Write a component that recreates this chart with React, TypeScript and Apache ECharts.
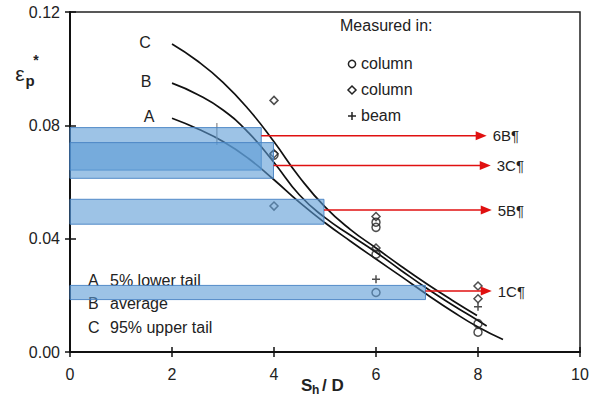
import React, { useEffect, useRef } from "react";
import * as echarts from "echarts";

// ---- data ----
const curveA = [
  [2, 0.0825], [2.5, 0.0788], [3, 0.0743], [3.5, 0.0683], [4, 0.0608],
  [4.5, 0.0528], [5, 0.0456], [5.5, 0.0391], [6, 0.0328], [6.5, 0.0266],
  [7, 0.0203], [7.5, 0.0143], [8, 0.0088], [8.49, 0.0044],
];
const curveB = [
  [2, 0.0949], [2.5, 0.0909], [3, 0.0854], [3.5, 0.0774], [4, 0.0669],
  [4.5, 0.0554], [5, 0.0474], [5.5, 0.0412], [6, 0.0352], [6.5, 0.0287],
  [7, 0.0224], [7.5, 0.0166], [8, 0.0111], [8.17, 0.0092],
];
const curveC = [
  [2, 0.1087], [2.5, 0.1027], [3, 0.0952], [3.5, 0.0857], [4, 0.0742],
  [4.5, 0.0617], [5, 0.0512], [5.5, 0.0432], [6, 0.0367], [6.5, 0.0302],
  [7, 0.0240], [7.5, 0.0182], [7.98, 0.0129],
];
const circlePts = [
  [4, 0.0695], [6, 0.0458], [6, 0.0440], [6, 0.0345], [6, 0.0210], [8, 0.0100], [8, 0.0070],
];
const diamondPts = [
  [4, 0.0888], [4, 0.0700], [4, 0.0515], [6, 0.0478], [6, 0.0367], [8, 0.0233], [8, 0.0188],
];
const plusPts = [
  [6, 0.0257], [8, 0.0160],
];
// [xStart, xEnd, yLow, yHigh]
const bands = [
  [0, 3.75, 0.0642, 0.0792],
  [0, 3.99, 0.0613, 0.0739],
  [0, 4.98, 0.0451, 0.0539],
  [0, 6.97, 0.0185, 0.0235],
];
// [y, xStart, xEnd]
const arrows = [
  [0.0763, 3.75, 8.17],
  [0.0658, 3.99, 8.25],
  [0.0501, 4.98, 8.27],
  [0.0215, 6.97, 8.27],
];
const arrowLabels = ["6B¶", "3C¶", "5B¶", "1C¶"];
const errorMark = [[2.88, 0.0731], [2.88, 0.0808]];
const curveLetters = ["C", "B", "A"];
const tailLetters = ["A", "B", "C"];
const tailLabels = ["5% lower tail", "average", "95% upper tail"];
const legendTitle = "Measured in:";
const legendLabels = ["column", "column", "beam"];
const xTickMin = 0, xTickMax = 10, xTickStep = 2;
const yTickMin = 0, yTickMax = 0.12, yTickStep = 0.04;

const FONT = "'Liberation Sans', Arial, sans-serif";
const PLUS = "path://M0,5L10,5M5,0L5,10";

export default function App() {
  const ref = useRef<HTMLDivElement>(null);
  useEffect(() => {
    document.body.style.margin = "0";
    const chart = echarts.init(ref.current!, null, { renderer: "svg" });
    const lineSeries = (data: number[][]) => ({
      type: "line",
      data,
      smooth: true,
      showSymbol: false,
      symbol: "none",
      lineStyle: { color: "#111", width: 1.7 },
      z: 2,
      silent: true,
    });
    const markerStyle = { color: "rgba(0,0,0,0)", borderColor: "#222", borderWidth: 1.5 };
    const option: any = {
      animation: false,
      backgroundColor: "#fff",
      grid: {
        left: 70, right: 13, top: 12, bottom: 44,
        show: true, borderColor: "#222", borderWidth: 1.5,
      },
      xAxis: [
        {
          type: "value", min: xTickMin, max: xTickMax, interval: xTickStep, position: "bottom",
          axisLine: { lineStyle: { color: "#111", width: 2 } },
          axisTick: { show: true, inside: false, length: 5, lineStyle: { color: "#111", width: 1.5 } },
          axisLabel: { margin: 14, fontSize: 16, color: "#222", fontFamily: FONT },
          splitLine: { show: false },
        },
        {
          type: "value", min: xTickMin, max: xTickMax, interval: xTickStep, position: "bottom",
          axisLine: { show: false },
          axisTick: { show: true, inside: true, length: 5, lineStyle: { color: "#111", width: 1.5 } },
          axisLabel: { show: false },
          splitLine: { show: false },
        },
      ],
      yAxis: [
        {
          type: "value", min: yTickMin, max: yTickMax, interval: yTickStep, position: "left",
          axisLine: { show: true, lineStyle: { color: "#111", width: 2 } },
          axisTick: { show: true, inside: false, length: 5, lineStyle: { color: "#111", width: 1.5 } },
          axisLabel: { margin: 10, fontSize: 16, color: "#222", fontFamily: FONT, formatter: (v: number) => v.toFixed(2) },
          splitLine: { show: false },
        },
        {
          type: "value", min: yTickMin, max: yTickMax, interval: yTickStep, position: "left",
          axisLine: { show: false },
          axisTick: { show: true, inside: true, length: 6, lineStyle: { color: "#111", width: 1.5 } },
          axisLabel: { show: false },
          splitLine: { show: false },
        },
      ],
      series: [
        lineSeries(curveA),
        lineSeries(curveB),
        lineSeries(curveC),
        {
          type: "line", data: errorMark, showSymbol: false, symbol: "none",
          lineStyle: { color: "#888", width: 1.2 }, z: 2, silent: true,
        },
        { type: "scatter", data: circlePts, symbol: "circle", symbolSize: 8, itemStyle: markerStyle, z: 3 },
        { type: "scatter", data: diamondPts, symbol: "diamond", symbolSize: 8, itemStyle: markerStyle, z: 3 },
        { type: "scatter", data: plusPts, symbol: PLUS, symbolSize: 8, itemStyle: markerStyle, z: 3 },
        {
          type: "custom",
          data: bands,
          encode: { x: [0, 1], y: [2, 3] },
          z: 4,
          renderItem: (params: any, api: any) => {
            const p0 = api.coord([api.value(0), api.value(3)]);
            const p1 = api.coord([api.value(1), api.value(2)]);
            return {
              type: "rect",
              shape: { x: p0[0], y: p0[1], width: p1[0] - p0[0], height: p1[1] - p0[1] },
              style: { fill: "rgba(91,155,213,0.6)", stroke: "rgba(70,130,195,0.9)", lineWidth: 1 },
            };
          },
        },
        {
          type: "custom",
          data: arrows,
          encode: { x: [1, 2], y: [0] },
          z: 5,
          renderItem: (params: any, api: any) => {
            const y = api.value(0);
            const p0 = api.coord([api.value(1), y]);
            const p1 = api.coord([api.value(2), y]);
            return {
              type: "group",
              children: [
                {
                  type: "line",
                  shape: { x1: p0[0], y1: p0[1], x2: p1[0] - 9, y2: p1[1] },
                  style: { stroke: "#e01010", lineWidth: 1.5 },
                },
                {
                  type: "polygon",
                  shape: { points: [[p1[0] - 11, p1[1] - 4.5], [p1[0], p1[1]], [p1[0] - 11, p1[1] + 4.5]] },
                  style: { fill: "#e01010" },
                },
                {
                  type: "text",
                  x: p1[0] + 6,
                  y: p1[1],
                  style: {
                    text: arrowLabels[params.dataIndex], fontSize: 15, fill: "#222",
                    fontFamily: FONT, align: "left", verticalAlign: "middle",
                  },
                },
              ],
            };
          },
        },
      ],
      graphic: [
        // curve letters
        ...curveLetters.map((t, i) => ({
          type: "text", x: [145, 146, 149][i], y: [42, 81, 116][i],
          style: { text: t, fontSize: 16, fill: "#222", fontFamily: FONT, align: "center", verticalAlign: "middle" },
        })),
        // tail legend
        ...tailLetters.map((t, i) => ({
          type: "text", x: 88, y: 280 + i * 23.5, z: 0,
          style: { text: t, fontSize: 16, fill: "#222", fontFamily: FONT, align: "left", verticalAlign: "middle" },
        })),
        ...tailLabels.map((t, i) => ({
          type: "text", x: 110, y: 280 + i * 23.5, z: 0,
          style: { text: t, fontSize: 16, fill: "#222", fontFamily: FONT, align: "left", verticalAlign: "middle" },
        })),
        // measured-in legend
        {
          type: "text", x: 340, y: 25,
          style: { text: legendTitle, fontSize: 16, fill: "#222", fontFamily: FONT, align: "left", verticalAlign: "middle" },
        },
        ...legendLabels.map((t, i) => ({
          type: "text", x: 361, y: 63 + i * 26,
          style: { text: t, fontSize: 16, fill: "#222", fontFamily: FONT, align: "left", verticalAlign: "middle" },
        })),
        { type: "circle", shape: { cx: 352, cy: 64, r: 3.6 }, style: { fill: "none", stroke: "#222", lineWidth: 1.5 } },
        {
          type: "polygon",
          shape: { points: [[352, 86], [356, 90], [352, 94], [348, 90]] },
          style: { fill: "none", stroke: "#222", lineWidth: 1.5 },
        },
        { type: "line", shape: { x1: 348, y1: 116, x2: 356, y2: 116 }, style: { stroke: "#222", lineWidth: 1.5 } },
        { type: "line", shape: { x1: 352, y1: 112, x2: 352, y2: 120 }, style: { stroke: "#222", lineWidth: 1.5 } },
        // y axis title
        {
          type: "text", x: 20, y: 73,
          style: { text: "ε", fontSize: 21, fill: "#222", fontFamily: FONT, align: "center", verticalAlign: "middle" },
        },
        {
          type: "text", x: 30, y: 80,
          style: { text: "p", fontSize: 15, fontWeight: "bold", fill: "#222", fontFamily: FONT, align: "center", verticalAlign: "middle" },
        },
        {
          type: "text", x: 36, y: 60,
          style: { text: "*", fontSize: 14, fontWeight: "bold", fill: "#222", fontFamily: FONT, align: "center", verticalAlign: "middle" },
        },
        // x axis title
        {
          type: "text", x: 301, y: 385,
          style: { text: "S", fontSize: 17, fontWeight: "bold", fill: "#222", fontFamily: FONT, align: "left", verticalAlign: "middle" },
        },
        {
          type: "text", x: 312, y: 390,
          style: { text: "h", fontSize: 12, fontWeight: "bold", fill: "#222", fontFamily: FONT, align: "left", verticalAlign: "middle" },
        },
        {
          type: "text", x: 322, y: 385,
          style: { text: "/ D", fontSize: 17, fontWeight: "bold", fill: "#222", fontFamily: FONT, align: "left", verticalAlign: "middle" },
        },
      ],
    };
    chart.setOption(option);
    return () => chart.dispose();
  }, []);
  return (
    <div
      ref={ref}
      style={{ position: "fixed", left: 0, top: 0, width: 593, height: 396, background: "#fff" }}
    />
  );
}
